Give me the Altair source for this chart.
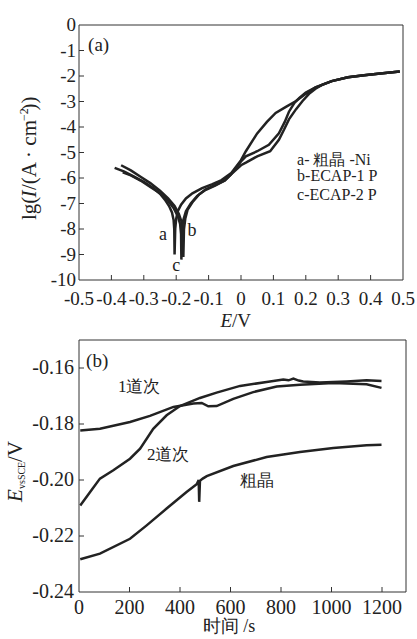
import altair as alt
import pandas as pd

FONT = "Liberation Serif"
INK = "#222222"
FRAME = "#333333"

# ---------------- panel (a): polarization curves ----------------
a_E = [-0.390, -0.360, -0.330, -0.300, -0.270, -0.250, -0.235, -0.222, -0.213, -0.208, -0.206, -0.205,
       -0.203, -0.200, -0.195, -0.185, -0.170, -0.150, -0.120, -0.090, -0.060, -0.030,
       0.000, 0.015, 0.050, 0.080, 0.107, 0.140, 0.170, 0.200, 0.230,
       0.250, 0.280, 0.330, 0.380, 0.430, 0.490]
a_lg = [-5.60, -5.75, -5.95, -6.15, -6.40, -6.62, -6.85, -7.10, -7.35, -7.65, -8.00, -9.00,
        -8.00, -7.60, -7.30, -7.05, -6.80, -6.60, -6.40, -6.25, -6.08, -5.80,
        -5.30, -4.95, -4.25, -3.80, -3.45, -3.20, -2.98, -2.70, -2.45,
        -2.35, -2.20, -2.05, -1.97, -1.90, -1.82]

b_E = [-0.370, -0.340, -0.310, -0.280, -0.250, -0.225, -0.205, -0.192, -0.184, -0.180, -0.178,
       -0.176, -0.172, -0.165, -0.150, -0.130, -0.110, -0.080, -0.050, -0.030,
       0.000, 0.015, 0.050, 0.086, 0.117, 0.135, 0.148, 0.165, 0.180, 0.200, 0.230,
       0.250, 0.280, 0.330, 0.380, 0.430, 0.490]
b_lg = [-5.50, -5.70, -5.95, -6.20, -6.50, -6.80, -7.10, -7.40, -7.70, -8.10, -9.10,
        -8.00, -7.60, -7.25, -6.95, -6.65, -6.45, -6.28, -6.10, -5.85,
        -5.35, -5.15, -4.95, -4.70, -4.25, -3.80, -3.40, -3.05, -2.86, -2.65, -2.45,
        -2.35, -2.20, -2.05, -1.97, -1.90, -1.82]

c_E = [-0.365, -0.340, -0.310, -0.280, -0.250, -0.225, -0.207, -0.195, -0.188, -0.185, -0.184,
       -0.182, -0.178, -0.170, -0.155, -0.135, -0.110, -0.080, -0.050, -0.030,
       0.000, 0.015, 0.050, 0.090, 0.117, 0.133, 0.148, 0.170, 0.190, 0.210, 0.230,
       0.250, 0.280, 0.330, 0.380, 0.430, 0.490]
c_lg = [-5.78, -5.90, -6.10, -6.35, -6.60, -6.90, -7.20, -7.50, -7.80, -8.20, -9.20,
        -8.00, -7.65, -7.30, -7.00, -6.70, -6.47, -6.30, -6.10, -5.85,
        -5.50, -5.40, -5.15, -4.95, -4.50, -4.10, -3.70, -3.30, -2.98, -2.70, -2.50,
        -2.35, -2.20, -2.05, -1.97, -1.90, -1.82]

top_x_ticks = [-0.5, -0.4, -0.3, -0.2, -0.1, 0.0, 0.1, 0.2, 0.3, 0.4, 0.5]
top_x_labels = ["-0.5", "-0.4", "-0.3", "-0.2", "-0.1", "0", "0.1", "0.2", "0.3", "0.4", "0.5"]
top_y_ticks = [-10, -9, -8, -7, -6, -5, -4, -3, -2, -1, 0]
top_y_labels = ["-10", "-9", "-8", "-7", "-6", "-5", "-4", "-3", "-2", "-1", "0"]

curve_letters = ["a", "b", "c"]
curve_letter_E = [-0.241, -0.151, -0.200]
curve_letter_lg = [-8.24, -8.08, -9.45]

legend_lines = ["a- 粗晶 -Ni", "b-ECAP-1 P", "c-ECAP-2 P"]
legend_E = [0.173, 0.173, 0.173]
legend_lg = [-5.29, -5.92, -6.67]

# ---------------- panel (b): open-circuit potential ----------------
p1_t = [5, 83, 202, 281, 374, 453, 486, 512, 545, 611, 690, 783, 875, 1007, 1139, 1198]
p1_E = [-0.1823, -0.1817, -0.1793, -0.1771, -0.1739, -0.1727, -0.1725, -0.1737, -0.1736,
        -0.1710, -0.1686, -0.1666, -0.1660, -0.1654, -0.1658, -0.1671]

p2_t = [5, 44, 83, 136, 202, 242, 294, 347, 400, 479, 545, 638, 743, 809, 830, 849, 870, 888, 954, 1060, 1139, 1198]
p2_E = [-0.2091, -0.2043, -0.1995, -0.1965, -0.1924, -0.1888, -0.1817, -0.1769, -0.1736,
        -0.1707, -0.1688, -0.1664, -0.1650, -0.1641, -0.1644, -0.1638, -0.1645, -0.1648,
        -0.1652, -0.1648, -0.1644, -0.1646]

cg_t = [5, 83, 202, 268, 347, 426, 466, 474, 476, 479, 490, 506, 611, 743, 875, 1007, 1139, 1198]
cg_E = [-0.2283, -0.2263, -0.2210, -0.2162, -0.2102, -0.2043, -0.2015, -0.2000, -0.2078,
        -0.2003, -0.1995, -0.1986, -0.1950, -0.1918, -0.1900, -0.1886, -0.1876, -0.1874]

bot_x_ticks = [0, 200, 400, 600, 800, 1000, 1200]
bot_x_labels = ["0", "200", "400", "600", "800", "1000", "1200"]
bot_y_ticks = [-0.24, -0.22, -0.20, -0.18, -0.16]
bot_y_labels = ["-0.24", "-0.22", "-0.20", "-0.18", "-0.16"]

series_labels = ["1道次", "2道次", "粗晶"]
series_label_t = [154, 269, 638]
series_label_E = [-0.1668, -0.1911, -0.2004]

one = pd.DataFrame({"k": [0]})


def txt(s, x, y, size, style="normal", angle=0, align="left", baseline="alphabetic"):
    kw = dict(text=s, font=FONT, fontSize=size, fontStyle=style, color=INK, align=align, baseline=baseline)
    if angle:
        kw["angle"] = angle
    return alt.Chart(one).mark_text(**kw).encode(x=alt.value(x), y=alt.value(y))


def frame(W, H):
    base = alt.Chart(one).mark_rule(color=FRAME, strokeWidth=1)
    return [
        base.encode(x=alt.value(0), x2=alt.value(W), y=alt.value(0)),
        base.encode(x=alt.value(0), x2=alt.value(W), y=alt.value(H)),
        base.encode(x=alt.value(0), y=alt.value(0), y2=alt.value(H)),
        base.encode(x=alt.value(W), y=alt.value(0), y2=alt.value(H)),
    ]


# ---------------- build panel (a) ----------------
W1, H1 = 324, 255
rows = []
for name, es, ls in (("a", a_E, a_lg), ("b", b_E, b_lg), ("c", c_E, c_lg)):
    for i, (e, l) in enumerate(zip(es, ls)):
        rows.append({"curve": name, "E": e, "lg": l, "i": i})
df_top = pd.DataFrame(rows)

xs1 = alt.Scale(domain=[-0.5, 0.5], nice=False, zero=False)
ys1 = alt.Scale(domain=[-10, 0], nice=False, zero=False)


def X1(f):
    return alt.X(f, type="quantitative", scale=xs1, axis=None)


def Y1(f):
    return alt.Y(f, type="quantitative", scale=ys1, axis=None)


top_lines = alt.Chart(df_top).mark_line(color=INK, strokeWidth=2.5).encode(
    x=X1("E"), y=Y1("lg"), detail="curve:N", order="i:Q")

tx1 = alt.Chart(pd.DataFrame({"v": top_x_ticks[1:-1]})).mark_rule(color=FRAME, strokeWidth=1).encode(
    x=X1("v"), y=alt.value(H1), y2=alt.value(H1 - 5))
ty1 = alt.Chart(pd.DataFrame({"v": top_y_ticks[1:-1]})).mark_rule(color=FRAME, strokeWidth=1).encode(
    y=Y1("v"), x=alt.value(0), x2=alt.value(5))

xl1 = alt.Chart(pd.DataFrame({"v": top_x_ticks, "s": top_x_labels})).mark_text(
    font=FONT, fontSize=19, color=INK, align="center", baseline="alphabetic").encode(
    x=X1("v"), y=alt.value(H1 + 25), text="s:N")
yl1 = alt.Chart(pd.DataFrame({"v": top_y_ticks, "s": top_y_labels})).mark_text(
    font=FONT, fontSize=19, color=INK, align="right", baseline="middle").encode(
    y=Y1("v"), x=alt.value(-3), text="s:N")

letters = alt.Chart(pd.DataFrame({"E": curve_letter_E, "lg": curve_letter_lg, "t": curve_letters})).mark_text(
    font=FONT, fontSize=18, color=INK, align="center", baseline="middle").encode(
    x=X1("E"), y=Y1("lg"), text="t:N")

legend = alt.Chart(pd.DataFrame({"E": legend_E, "lg": legend_lg, "t": legend_lines})).mark_text(
    font=FONT, fontSize=16, color=INK, align="left", baseline="middle").encode(
    x=X1("E"), y=Y1("lg"), text="t:N")

panel_a_tag = alt.Chart(pd.DataFrame({"E": [-0.472], "lg": [-0.78], "t": ["(a)"]})).mark_text(
    font=FONT, fontSize=19, color=INK, align="left", baseline="middle").encode(
    x=X1("E"), y=Y1("lg"), text="t:N")

# x title  E/V
xt1 = [txt("E", 153, 302, 19, "italic", align="right"),
       txt("/V", 153, 302, 19)]
# y title lg(I/(A·cm-2))
yx = -49
y0 = 195
yt1 = [
    txt("lg(", yx, y0, 21, angle=270, baseline="middle"),
    txt("I", yx, y0 - 22.5, 21, "italic", angle=270, baseline="middle"),
    txt("/(A · cm", yx, y0 - 30.0, 21, angle=270, baseline="middle"),
    txt("−2", yx - 6, y0 - 99, 12, angle=270, baseline="middle"),
    txt("))", yx, y0 - 109.5, 21, angle=270, baseline="middle"),
]

top = alt.layer(top_lines, tx1, ty1, xl1, yl1, letters, legend, panel_a_tag,
                *frame(W1, H1), *xt1, *yt1).properties(width=W1, height=H1)

# ---------------- build panel (b) ----------------
W2, H2 = 327, 252
rows = []
for name, ts, es in (("1", p1_t, p1_E), ("2", p2_t, p2_E), ("c", cg_t, cg_E)):
    for i, (t, e) in enumerate(zip(ts, es)):
        rows.append({"s": name, "t": t, "E": e, "i": i})
df_bot = pd.DataFrame(rows)

xs2 = alt.Scale(domain=[0, 1295], nice=False, zero=False)
ys2 = alt.Scale(domain=[-0.24, -0.15], nice=False, zero=False)


def X2(f):
    return alt.X(f, type="quantitative", scale=xs2, axis=None)


def Y2(f):
    return alt.Y(f, type="quantitative", scale=ys2, axis=None)


bot_lines = alt.Chart(df_bot).mark_line(color=INK, strokeWidth=2.5).encode(
    x=X2("t"), y=Y2("E"), detail="s:N", order="i:Q")

tx2 = alt.Chart(pd.DataFrame({"v": bot_x_ticks[1:]})).mark_rule(color=FRAME, strokeWidth=1).encode(
    x=X2("v"), y=alt.value(H2), y2=alt.value(H2 - 5))
ty2 = alt.Chart(pd.DataFrame({"v": bot_y_ticks[1:]})).mark_rule(color=FRAME, strokeWidth=1).encode(
    y=Y2("v"), x=alt.value(0), x2=alt.value(5))

xl2 = alt.Chart(pd.DataFrame({"v": bot_x_ticks, "s": bot_x_labels})).mark_text(
    font=FONT, fontSize=20, color=INK, align="center", baseline="alphabetic").encode(
    x=X2("v"), y=alt.value(H2 + 22), text="s:N")
yl2 = alt.Chart(pd.DataFrame({"v": bot_y_ticks, "s": bot_y_labels})).mark_text(
    font=FONT, fontSize=20, color=INK, align="right", baseline="middle").encode(
    y=Y2("v"), x=alt.value(-5), text="s:N")

slabels = alt.Chart(pd.DataFrame({"t": series_label_t, "E": series_label_E, "s": series_labels})).mark_text(
    font=FONT, fontSize=17, color=INK, align="left", baseline="middle").encode(
    x=X2("t"), y=Y2("E"), text="s:N")

panel_b_tag = alt.Chart(pd.DataFrame({"t": [28], "E": [-0.1575], "s": ["(b)"]})).mark_text(
    font=FONT, fontSize=19, color=INK, align="left", baseline="middle").encode(
    x=X2("t"), y=Y2("E"), text="s:N")

xt2 = [txt("时间 /s", 150, 292, 18, align="center")]
ex = -63
e0 = 162
yt2 = [
    txt("E", ex, e0, 21, "italic", angle=270, baseline="middle"),
    txt("vsSCE", ex + 6, e0 - 13, 10, angle=270, baseline="middle"),
    txt("/V", ex, e0 - 40, 21, angle=270, baseline="middle"),
]

bottom = alt.layer(bot_lines, tx2, ty2, xl2, yl2, slabels, panel_b_tag,
                   *frame(W2, H2), *xt2, *yt2).properties(width=W2, height=H2)

chart = alt.vconcat(top, bottom, spacing=8).properties(
    padding={"left": 5, "top": 16, "right": 0, "bottom": 0},
    background="white",
).configure_view(stroke=None, strokeWidth=0)

chart.save("out.html", embed_options={"renderer": "svg", "actions": False})
